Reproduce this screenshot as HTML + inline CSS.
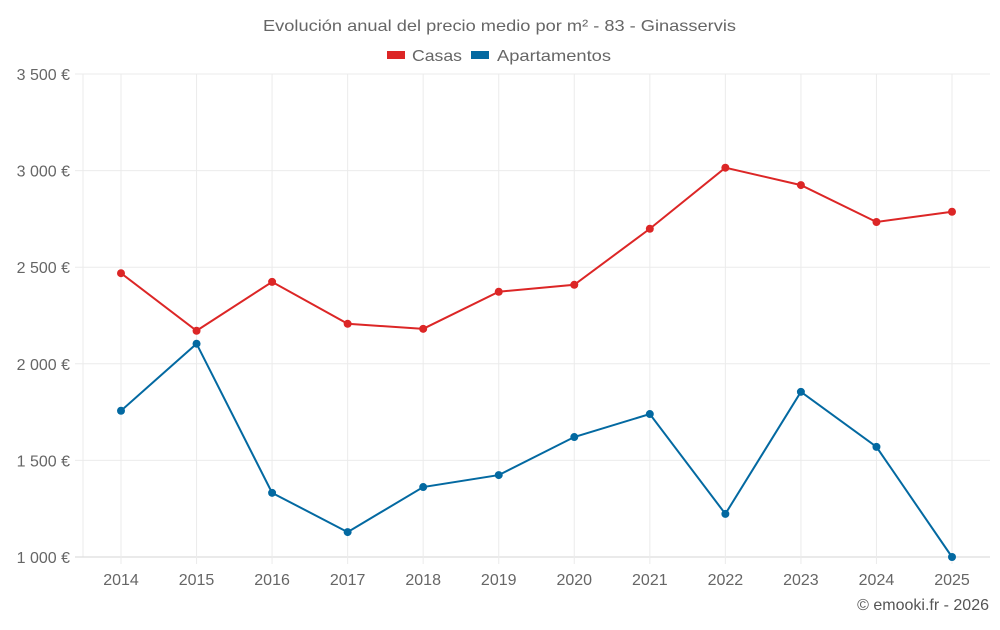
<!DOCTYPE html>
<html><head><meta charset="utf-8"><style>
body{margin:0;background:#fff;font-family:"Liberation Sans",sans-serif;}
svg text{font-family:"Liberation Sans",sans-serif;}
</style></head><body>
<svg id="c" width="1000" height="625">
<text x="263" y="31" textLength="473" lengthAdjust="spacingAndGlyphs" font-size="16" fill="#666">Evolución anual del precio medio por m² - 83 - Ginasservis</text>
<g>
<g><rect x="387" y="51" width="18" height="8" fill="#dc2626"/><text x="412" y="61" textLength="50" lengthAdjust="spacingAndGlyphs" font-size="16" fill="#666">Casas</text></g>
<g><rect x="471" y="51" width="18" height="8" fill="#0369a1"/><text x="497" y="61" textLength="114" lengthAdjust="spacingAndGlyphs" font-size="16" fill="#666">Apartamentos</text></g>
</g>
<g id="grid"></g><g id="axes"></g><g id="series"></g>
<text x="989" y="610" text-anchor="end" font-size="16" fill="#555">© emooki.fr - 2026</text>
</svg>
<script>
const years=["2014","2015","2016","2017","2018","2019","2020","2021","2022","2023","2024","2025"];
const casas=[2469,2171,2424,2207,2181,2373,2409,2699,3015,2925,2734,2787];
const apartamentos=[1757,2104,1332,1129,1362,1424,1621,1740,1223,1855,1570,1000];
const yTicks=[1000,1500,2000,2500,3000,3500];
const yTickLabels=["1 000 €","1 500 €","2 000 €","2 500 €","3 000 €","3 500 €"];
const NS="http://www.w3.org/2000/svg";
const L=83,R=990,T=74,B=557;
const x=i=>121+i*(952-121)/(years.length-1);
const y=v=>B-(v-1000)/(3500-1000)*(B-T);
function mk(tag,attrs,parent){const e=document.createElementNS(NS,tag);for(const k in attrs)e.setAttribute(k,attrs[k]);parent.appendChild(e);return e;}
const g=document.getElementById('grid'),a=document.getElementById('axes'),s=document.getElementById('series');
mk('line',{x1:L,x2:L,y1:T,y2:B,stroke:'#ebebeb'},g);
yTicks.forEach((v,i)=>{
 const l=mk('line',{x1:75,x2:R,y1:y(v),y2:y(v),stroke:i==0?'#d6d6d6':'#ebebeb'},g);
 
 
 const t=mk('text',{x:70,y:y(v)+6,'text-anchor':'end','font-size':16,fill:'#666'},a);
 t.textContent=yTickLabels[i];
 
 
});
years.forEach((yr,i)=>{
 const l=mk('line',{x1:x(i),x2:x(i),y1:T,y2:B+7,stroke:'#ebebeb'},g);
 
 
 const t=mk('text',{x:x(i),y:585,'text-anchor':'middle','font-size':16,fill:'#666'},a);
 t.textContent=yr;
 
 
});
function series(vals,color,name){
 const p=mk('polyline',{points:vals.map((v,i)=>x(i)+','+y(v)).join(' '),fill:'none',stroke:color,'stroke-width':2},s);
 
 
 vals.forEach((v,i)=>{
  const c=mk('circle',{cx:x(i),cy:y(v),r:4,fill:color},s);
  
  
 });
}
series(casas,'#dc2626','casas');
series(apartamentos,'#0369a1','apartamentos');
</script>
</body></html>
